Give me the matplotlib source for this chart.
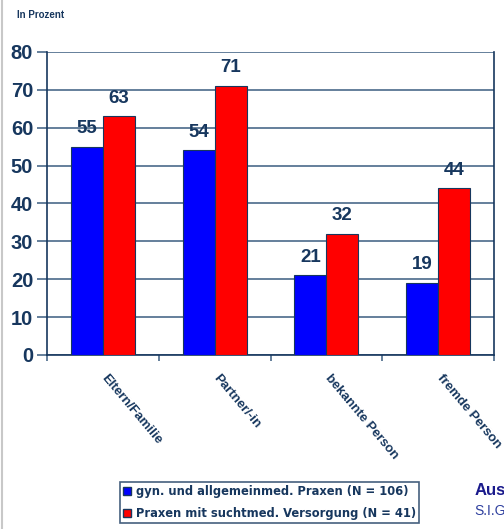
import numpy as np
import matplotlib.pyplot as plt
from matplotlib.lines import Line2D

# Daten
kategorien = ['Eltern/Familie', 'Partner/-in', 'bekannte Person', 'fremde Person']
gyn_allg = [55, 54, 21, 19]
sucht = [63, 71, 32, 44]
legende = ['gyn. und allgemeinmed. Praxen (N = 106)',
           'Praxen mit suchtmed. Versorgung (N = 41)']

plt.rcParams['font.family'] = ['Liberation Sans', 'DejaVu Sans']
navy = '#17375E'
fig = plt.figure(figsize=(5.04, 5.29), dpi=100)
ax = fig.add_axes([0.0933, 0.329, 0.887, 0.573])

x = np.arange(len(kategorien))
w = 0.286
b1 = ax.bar(x - w / 2, gyn_allg, w, color='#0000FF', edgecolor=navy, linewidth=0.8, zorder=3)
b2 = ax.bar(x + w / 2, sucht, w, color='#FF0000', edgecolor=navy, linewidth=0.8, zorder=3)

for bars, vals in [(b1, gyn_allg), (b2, sucht)]:
    for r, v in zip(bars, vals):
        ax.text(r.get_x() + r.get_width() / 2, v + 2.5, str(v), ha='center', va='bottom',
                fontsize=13.5, fontweight='bold', color=navy)

ax.set_xlim(-0.5, len(kategorien) - 0.5)
ax.set_ylim(0, 80)
ax.set_yticks(range(0, 81, 10))
ax.yaxis.grid(True, color='#4A6A8A', linewidth=1.2, zorder=0)
ax.set_xticks(np.arange(len(kategorien) + 1) - 0.5)
ax.set_xticklabels([])
ax.tick_params(axis='y', length=7, width=1.2, color='#4A6A8A', labelsize=14.5, labelcolor=navy, pad=3)
ax.tick_params(axis='x', length=4, width=1.2, color='#4A6A8A')
for lbl in ax.get_yticklabels():
    lbl.set_fontweight('bold')
for s in ['left', 'bottom', 'right']:
    ax.spines[s].set_color(navy)
    ax.spines[s].set_linewidth(1.2)
ax.spines['top'].set_visible(False)

for i, k in enumerate(kategorien):
    ax.text(i + 0.05, -4.5, k, rotation=-50, ha='left', va='top', rotation_mode='anchor',
            fontsize=9.5, fontweight='bold', color=navy)

fig.text(0.034, 0.972, 'In Prozent', fontsize=7, fontweight='bold', color=navy, va='center')

handles = [Line2D([], [], marker='s', linestyle='none', markersize=6,
                  markerfacecolor=c, markeredgecolor=navy) for c in ['#0000FF', '#FF0000']]
leg = fig.legend(handles, legende, loc='lower left', bbox_to_anchor=(0.226, 0.0),
                 frameon=True, fancybox=False, handlelength=0.6,
                 prop={'family': 'DejaVu Sans', 'size': 8.3, 'weight': 'bold'},
                 handletextpad=0.5, borderpad=0.3, labelspacing=0.75)
leg.get_frame().set_edgecolor(navy)
leg.get_frame().set_linewidth(1.2)
for t in leg.get_texts():
    t.set_color(navy)

fig.text(0.942, 0.072, 'Aus', fontsize=12, fontweight='bold', color='#1A1A8C', va='center')
fig.text(0.942, 0.034, 'S.I.G', fontsize=10, color='#2E3F9E', va='center')
fig.add_artist(Line2D([0.004, 0.004], [0, 1], color='#C8C8C8', linewidth=1.5))

fig.savefig('out.png', dpi=100)
